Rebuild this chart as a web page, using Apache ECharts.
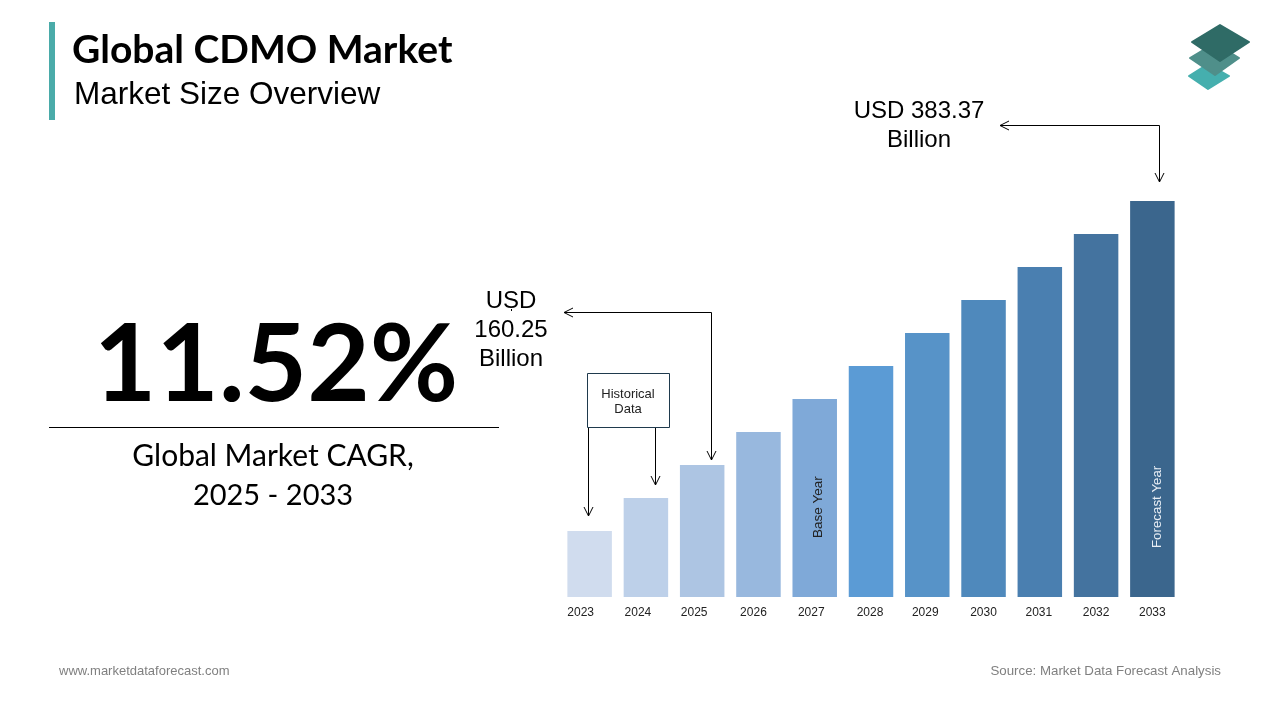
<!DOCTYPE html>
<html>
<head>
<meta charset="utf-8">
<title>Global CDMO Market</title>
<script src="https://cdn.jsdelivr.net/npm/echarts@6/dist/echarts.min.js"></script>
<style>
    html, body { margin: 0; padding: 0; background: #fff; }
    #chart { width: 1280px; height: 720px; }
</style>
</head>
<body>
<div id="chart"></div>
<script>
var years = ['2023', '2024', '2025', '2026', '2027', '2028', '2029', '2030', '2031', '2032', '2033'];
// the bars have no printed scale, so these are heights read off the picture
var barHeights = [66, 99, 132, 165, 198, 231, 264, 297, 330, 363, 396];

var barColors = ['#D0DCEE', '#BDD0E9', '#ADC5E3', '#98B8DE', '#7FA9D8', '#5B9BD5', '#5793C8', '#4F89BC', '#4A7FB0', '#44739F', '#3B668D'];
// the year labels sit a little left of their bars in the reference
var labelShift = [18, 16, 16, 10, 7, 2, 4, 0, 2, 0, 0];

var SANS = '"Liberation Sans", Arial, sans-serif';
var HEAD = 'Lato, "Open Sans", sans-serif';

function text(x, y, str, size, opt) {
    opt = opt || {};
    return {
        type: 'text',
        x: x,
        y: y,
        style: {
            text: str,
            font: (opt.weight || 'normal') + ' ' + size + 'px ' + (opt.family || SANS),
            fill: opt.color || '#000',
            align: opt.align || 'center',
            verticalAlign: 'middle'
        }
    };
}

function line(points) {
    return {
        type: 'polyline',
        shape: { points: points },
        style: { stroke: '#000', lineWidth: 1, fill: null }
    };
}

function diamond(points, color) {
    return {
        type: 'polygon',
        shape: { points: points },
        style: { fill: color, stroke: color, lineWidth: 2, lineJoin: 'round' }
    };
}

var graphics = [
    // header
    { type: 'rect', shape: { x: 49, y: 22, width: 6, height: 98 }, style: { fill: '#4AABA9' } },
    text(72, 50, 'Global CDMO Market', 39, { align: 'left', weight: 'bold', family: HEAD }),
    text(74, 95, 'Market Size Overview', 31.5, { align: 'left' }),

    // logo
    diamond([[1208, 64], [1229, 76], [1208, 89], [1189, 76]], '#45AFAE'),
    diamond([[1215, 43], [1239, 58], [1215, 75], [1190, 58]], '#4F8F8A'),
    diamond([[1220, 25], [1249, 42], [1220, 61], [1192, 42]], '#2F6B66'),

    // CAGR block
    text(276, 366, '11.52%', 108, { weight: 'bold', family: HEAD }),
    line([[49, 427.5], [499, 427.5]]),
    text(273, 456, 'Global Market CAGR,', 30, { family: HEAD }),
    text(273, 496, '2025 - 2033', 29, { family: HEAD }),

    // 2033 callout
    text(919, 111, 'USD 383.37', 24),
    text(919, 140, 'Billion', 24),
    line([[1000, 125.5], [1159.5, 125.5], [1159.5, 182]]),
    line([[1009, 121], [1000, 125.5], [1009, 130]]),
    line([[1155, 173], [1159.5, 182], [1164, 173]]),

    // 2025 callout
    text(511, 301, 'USD', 24),
    text(511, 330, '160.25', 24),
    text(511, 359, 'Billion', 24),
    line([[511.5, 309], [511.5, 311]]),
    line([[564, 312.5], [711.5, 312.5], [711.5, 460]]),
    line([[573, 308], [564, 312.5], [573, 317]]),
    line([[707, 451], [711.5, 460], [716, 451]]),

    // historical data box
    { type: 'rect', shape: { x: 587.5, y: 373.5, width: 82, height: 54 }, style: { fill: '#fff', stroke: '#1F3A4D', lineWidth: 1 } },
    text(628, 394, 'Historical', 13, { color: '#222' }),
    text(628, 409, 'Data', 13, { color: '#222' }),
    line([[588.5, 428], [588.5, 516]]),
    line([[584, 507], [588.5, 516], [593, 507]]),
    line([[655.5, 428], [655.5, 485]]),
    line([[651, 476], [655.5, 485], [660, 476]]),

    // footer
    text(59, 671, 'www.marketdataforecast.com', 13, { align: 'left', color: '#808080' }),
    text(1221, 671, 'Source: Market Data Forecast Analysis', 13.3, { align: 'right', color: '#808080' })
];

var chart = echarts.init(document.getElementById('chart'));

chart.setOption({
    backgroundColor: '#fff',
    animation: false,
    grid: { left: 561.5, width: 619, top: 197, height: 400 },
    xAxis: {
        type: 'category',
        data: years.map(function (y, i) {
            return { value: y, textStyle: { padding: [0, labelShift[i], 0, 0] } };
        }),
        axisLine: { show: false },
        axisTick: { show: false },
        axisLabel: { interval: 0, margin: 10, fontSize: 12, fontFamily: SANS, color: '#222' }
    },
    yAxis: { type: 'value', min: 0, max: 400, show: false },
    series: [{
        type: 'bar',
        barWidth: 44.5,
        data: barHeights.map(function (h, i) {
            var item = { value: h, itemStyle: { color: barColors[i] } };
            if (years[i] === '2027') {
                item.label = { show: true, formatter: 'Base Year', rotate: 90, position: 'insideBottom', align: 'left', verticalAlign: 'middle', distance: 59, offset: [0, 4], fontSize: 13.5, fontFamily: SANS, color: '#222' };
            }
            if (years[i] === '2033') {
                item.label = { show: true, formatter: 'Forecast Year', rotate: 90, position: 'insideBottom', align: 'left', verticalAlign: 'middle', distance: 49, offset: [0, 5], fontSize: 13.3, fontFamily: SANS, color: '#E8EEF5' };
            }
            return item;
        })
    }],
    graphic: graphics
});
</script>
</body>
</html>
